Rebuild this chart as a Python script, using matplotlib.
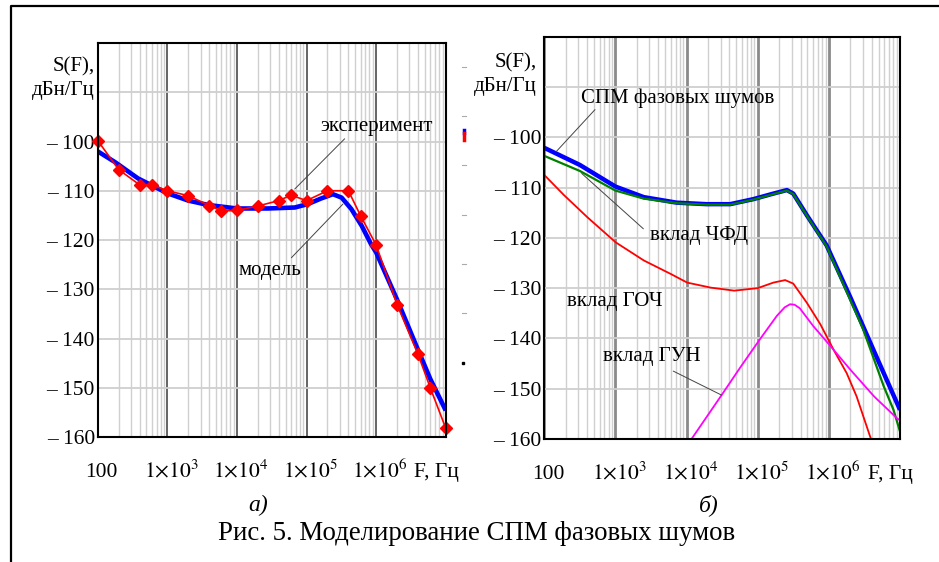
import matplotlib
matplotlib.use('Agg')
import matplotlib.pyplot as plt
import matplotlib.transforms as mtransforms
from matplotlib.lines import Line2D

plt.rcParams['font.family'] = ['Liberation Serif', 'DejaVu Serif']
plt.rcParams['mathtext.fontset'] = 'stix'

# --- panel a): experiment vs model ---
exp_f = [100, 200, 400, 600, 1e3, 2e3, 4e3, 6e3, 1e4, 2e4, 4e4, 6e4,
         1e5, 2e5, 4e5, 6e5, 1e6, 2e6, 4e6, 6e6, 1e7]
exp_s = [-99.8, -105.7, -108.8, -108.8, -110.0, -111.0, -113.0, -114.1, -114.0,
         -113.1, -112.0, -110.9, -112.0, -110.0, -110.0, -115.1, -121.0,
         -133.1, -143.2, -150.0, -158.2]

model_f = [100, 178, 380, 1e3, 2e3, 3.9e3, 1e4, 2.8e4, 6.8e4, 1.05e5, 1.6e5,
           2.4e5, 3.2e5, 4.4e5, 6.2e5, 8.5e5, 1e6, 2e6, 4e6, 6e6, 1e7]
model_s = [-102.0, -104.2, -107.5, -110.5, -112.0, -112.9, -113.6, -113.6,
           -113.4, -112.7, -111.6, -110.7, -111.4, -113.7, -117.1, -120.9,
           -122.5, -132.1, -142.3, -148.2, -154.6]

# --- panel б): contributions ---
total_f = [100, 316, 1000, 2500, 7240, 1.9e4, 4.1e4, 8.7e4, 1.66e5, 2.57e5,
           3.16e5, 4.9e5, 9.3e5, 2e6, 5e6, 1e7]
total_s = [-102.1, -105.5, -109.8, -111.9, -113.0, -113.3, -113.3, -112.3,
           -111.2, -110.5, -111.2, -115.5, -121.5, -131.8, -144.6, -154.2]

pfd_f = [100, 316, 1000, 2500, 7240, 1.9e4, 4.1e4, 8.7e4, 1.66e5, 2.57e5,
         3.16e5, 4.9e5, 9.3e5, 3e6, 5.9e6, 8.1e6, 1e7]
pfd_s = [-103.7, -106.7, -110.6, -112.2, -113.1, -113.4, -113.4, -112.4,
         -111.3, -110.6, -111.3, -115.6, -121.7, -138.0, -149.5, -154.2, -158.5]

ref_f = [100, 189, 403, 1010, 2510, 6030, 1.02e4, 2.19e4, 4.68e4, 1e5, 1.66e5,
         2.43e5, 3.16e5, 4.9e5, 7.6e5, 1.16e6, 1.78e6, 2.45e6, 3.8e6, 4.2e6]
ref_s = [-107.5, -111.5, -115.9, -120.9, -124.5, -127.2, -128.9, -129.9,
         -130.5, -130.0, -128.9, -128.4, -129.1, -132.9, -137.2, -142.2,
         -146.9, -151.5, -159.5, -161.0]

vco_f = [1.05e4, 3.13e4, 5.6e4, 1.07e5, 1.86e5, 2.4e5, 2.85e5, 3.3e5, 3.9e5,
         6e5, 1.05e6, 2e6, 4.3e6, 9.1e6, 1e7]
vco_s = [-161.0, -151.2, -145.9, -140.2, -135.5, -133.8, -133.2, -133.3,
         -134.0, -137.5, -141.5, -146.2, -151.5, -155.9, -156.3]

decades = [1e2, 1e3, 1e4, 1e5, 1e6]
decade_labels = ['100', r'$1{\times}10^{3}$', r'$1{\times}10^{4}$',
                 r'$1{\times}10^{5}$', r'$1{\times}10^{6}$']
y_ticks = [-160, -150, -140, -130, -120, -110, -100, -90, -80]
y_labels = ['– 160', '– 150', '– 140', '– 130', '– 120', '– 110', '– 100', '', '']

W, H = 939, 562


def fx(x):
    return x / W


def fy(y):
    return 1 - y / H


# setup_axes() : common Mathcad-like look
def setup_axes(ax, major_color, major_lw, fig):
    ax.set_xscale('log')
    ax.set_xlim(1e2, 1e7)
    ax.set_ylim(-160, -80)
    ax.set_axisbelow(True)
    ax.set_xticks([1e2, 1e3, 1e4, 1e5, 1e6, 1e7])
    ax.set_xticklabels([])
    ax.set_yticks(y_ticks)
    ax.set_yticklabels(y_labels, fontsize=15.5)
    ax.tick_params(axis='both', which='both', length=0)
    ax.tick_params(axis='y', pad=2)
    ax.grid(True, which='minor', axis='x', color='#d0d0d0', lw=1.0)
    ax.grid(True, which='major', axis='x', color=major_color, lw=major_lw)
    ax.grid(True, which='major', axis='y', color='#cfcfcf', lw=1.3)
    for sp in ax.spines.values():
        sp.set_color('black')
        sp.set_linewidth(1.5)
    # x tick labels, baseline 40 px below the axes
    trans = mtransforms.blended_transform_factory(ax.transData, ax.transAxes)
    off = mtransforms.ScaledTranslation(4 / 100, -40 / 100, fig.dpi_scale_trans)
    for f, lab in zip(decades, decade_labels):
        ax.text(f, 0, lab, transform=trans + off, ha='center', va='baseline',
                fontsize=15.5)
    off2 = mtransforms.ScaledTranslation(-32 / 100, -40 / 100, fig.dpi_scale_trans)
    ax.text(1.0, 0, 'F, Гц', transform=ax.transAxes + off2, ha='left',
            va='baseline', fontsize=15.5)


fig = plt.figure(figsize=(9.39, 5.62), dpi=100)

ax1 = fig.add_axes([fx(97.7), fy(437), (445.7 - 97.7) / W, (437 - 43) / H])
ax2 = fig.add_axes([fx(544.3), fy(439), (900 - 544.3) / W, (439 - 36.7) / H])

setup_axes(ax1, '#3a3a3a', 1.1, fig)
setup_axes(ax2, '#8a8a8a', 2.0, fig)

# panel a)
ax1.plot(model_f, model_s, color='#0000ff', lw=3.3, solid_capstyle='butt')
ax1.plot(exp_f, exp_s, color='#ff0000', lw=1.2, marker='D', markersize=6.5,
         clip_on=False)
ax1.text(1e6, -97.0, 'эксперимент', ha='center', va='center', fontsize=15)
ax1.annotate('', xy=(6.78e4, -109.65), xytext=(3.53e5, -99.45),
             arrowprops=dict(arrowstyle='-', color='#444444', lw=0.7,
                             shrinkA=0, shrinkB=0))
ax1.text(2.97e4, -126.2, 'модель', ha='center', va='center', fontsize=15)
ax1.annotate('', xy=(3.34e5, -112.7), xytext=(6.07e4, -123.6),
             arrowprops=dict(arrowstyle='-', color='#444444', lw=0.7,
                             shrinkA=0, shrinkB=0))

# panel б)
ax2.plot(total_f, total_s, color='#0000ff', lw=3.2, solid_capstyle='butt')
ax2.plot(pfd_f, pfd_s, color='#008000', lw=1.6)
ax2.plot(ref_f, ref_s, color='#ff0000', lw=1.3)
ax2.plot(vco_f, vco_s, color='#ff00ff', lw=1.3)
ax2.text(7.6e3, -92.2, 'СПМ фазовых шумов', ha='center', va='center', fontsize=15)
ax2.annotate('', xy=(146, -102.9), xytext=(516, -94.5),
             arrowprops=dict(arrowstyle='-', color='#444444', lw=0.7,
                             shrinkA=0, shrinkB=0))
ax2.text(1.5e4, -119.6, 'вклад ЧФД', ha='center', va='center', fontsize=15)
ax2.annotate('', xy=(336, -107.2), xytext=(2.47e3, -118.2),
             arrowprops=dict(arrowstyle='-', color='#444444', lw=0.7,
                             shrinkA=0, shrinkB=0))
ax2.text(977, -132.7, 'вклад ГОЧ', ha='center', va='center', fontsize=15)
ax2.text(3.27e3, -143.5, 'вклад ГУН', ha='center', va='center', fontsize=15)
ax2.annotate('', xy=(3.13e4, -151.3), xytext=(6.5e3, -146.5),
             arrowprops=dict(arrowstyle='-', color='#444444', lw=0.7,
                             shrinkA=0, shrinkB=0))

# axis titles
for x_right, y1, y2 in [(95, 67, 90), (537, 63, 87)]:
    fig.text(fx(x_right), fy(y1), 'S(F),', ha='right', va='center', fontsize=15)
    fig.text(fx(x_right), fy(y2), 'дБн/Гц', ha='right', va='center', fontsize=15)

# panel letters and caption
fig.text(fx(258), fy(505), 'а)', ha='center', va='center', fontsize=17,
         style='italic')
fig.text(fx(709), fy(505), 'б)', ha='center', va='center', fontsize=17,
         style='italic')
fig.text(fx(477), fy(533), 'Рис. 5. Моделирование СПМ фазовых шумов',
         ha='center', va='center', fontsize=19.4)

# outer frame
fig.add_artist(Line2D([fx(11), fx(11), 1.0], [0.0, fy(6), fy(6)],
                      transform=fig.transFigure, color='black', lw=1.6))

# cropped legend remains right of panel a)
for yy in [67, 116, 165, 215, 264, 313]:
    fig.add_artist(Line2D([fx(462), fx(466)], [fy(yy), fy(yy)],
                          transform=fig.transFigure, color='#aaaaaa', lw=0.8))
fig.add_artist(Line2D([fx(463.5), fx(463.5)], [fy(130.5), fy(133)],
                      transform=fig.transFigure, color='#0000ff', lw=2.5))
fig.add_artist(Line2D([fx(463.5), fx(463.5)], [fy(133), fy(140)],
                      transform=fig.transFigure, color='#ff0000', lw=2.5))
fig.add_artist(Line2D([fx(463)], [fy(363)], transform=fig.transFigure,
                      color='black', marker='s', markersize=1.5, lw=0))

fig.savefig('out.png', dpi=100)
